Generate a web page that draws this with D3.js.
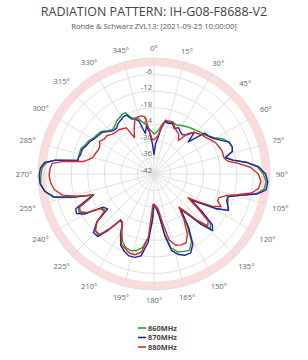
<!DOCTYPE html>
<html>
<head>
<meta charset="utf-8">
<script src="https://cdn.jsdelivr.net/npm/d3@7"></script>
<style>
  body { margin: 0; background: #fff; }
  text { font-family: "Open Sans", "DejaVu Sans", sans-serif; }
</style>
</head>
<body>
<div id="chart"></div>
<script>
// Data (dB vs azimuth)
const angles = [0, 3, 6, 9, 12, 16, 20, 24, 28, 32, 36, 40, 44, 47, 51, 55, 59, 63, 67, 71, 74, 77, 80, 83, 86, 90,
  94, 98, 101, 104, 107, 110, 113, 116, 119, 122, 125, 128, 131, 134, 137, 140, 143, 147, 151, 155, 159, 163, 167,
  170, 173, 177, 180, 182, 185, 189, 193, 197, 201, 205, 209, 213, 216, 219, 222, 226, 230, 233, 237, 240, 243, 246,
  249, 251, 254, 257, 261, 265, 269, 273, 276, 278, 280, 282, 285, 289, 293, 297, 301, 305, 309, 313, 317, 321, 325,
  329, 332, 335, 338, 341, 344, 348, 351, 354, 357];

const mhz860 = [-27.5, -27, -26, -24, -22.5, -22, -22, -22.5, -22, -21.5, -21, -20.5, -20, -19.5, -19, -18, -16.5, -14, -12.5, -12, -12.5, -15.5, -13, -8, -4.5, -2.4,
  -1.3, -1.8, -4.5, -10, -14, -13.5, -13, -12, -16, -22, -26, -20, -15, -13.5, -18, -23, -26, -20, -14, -11.5, -12, -12.5, -14.5,
  -20, -27, -30, -31, -26, -19, -15, -13.5, -13, -13.5, -15, -18, -21, -21, -16, -12, -12.5, -15, -20, -19.5, -14, -11.5, -12,
  -17, -19, -11, -4.5, -2, -0.8, -1, -1.4, -2.8, -6, -14, -14, -14, -14, -15, -15.5, -16.5, -17, -17.5, -19, -20, -19.5, -18.5,
  -18, -17.5, -17.5, -20, -20.5, -21, -23, -24, -25.5, -26.5];

const mhz870 = [-35, -31, -29, -25, -22.5, -23, -22.5, -24, -23, -24, -24.5, -23.5, -21, -25, -18.5, -18, -17, -15, -12.5, -12, -12.5, -15.5, -13, -8, -4, -1.6,
  -0.7, -1, -4, -10, -14, -14, -13, -12, -16, -22, -26, -20, -14, -12.5, -17, -23, -26, -19, -13, -10.5, -10.5, -11.5, -13.5,
  -19, -27, -30, -31, -25, -17, -12, -11, -11, -12, -13.5, -17, -21, -21.5, -16, -11.5, -11.5, -15, -21, -20, -13, -10.5, -11,
  -16, -18.5, -12, -5, -2, -0.6, -0.4, -0.8, -2.2, -6, -14, -14, -14.5, -14.5, -15.5, -16, -17, -17.5, -18, -19.5, -20.5, -20.5, -19.5,
  -19, -18.5, -18.5, -20.5, -21, -22, -27, -24.5, -27, -31];

const mhz880 = [-29.5, -29, -28, -25, -22, -22.5, -22, -23.5, -24.5, -25, -27, -23, -21, -20.5, -19.5, -19, -18, -17, -16.5, -16, -16, -16, -15, -11, -7, -4.2,
  -3.2, -3.8, -6, -11, -15, -17, -17, -15, -18, -23, -27, -22, -16, -15, -19, -24, -27, -22, -17, -14.5, -14.5, -15, -17.5,
  -24, -29, -30.5, -30, -31, -19, -13.5, -12, -12, -13, -14, -17.5, -21, -21, -16.5, -12.5, -12.5, -15, -19.5, -19, -14, -12, -12.5,
  -17, -18.5, -13, -8, -5.5, -4.5, -4, -4.3, -5, -9, -16, -17.5, -19, -19.5, -20, -20, -19, -20, -20, -21, -21.5, -21.5, -22,
  -22.5, -27, -25, -23, -21, -20.5, -20.5, -21, -26.5, -29.5];

const seriesNames = ["860MHz", "870MHz", "880MHz"];
const seriesValues = [mhz860, mhz870, mhz880];
const seriesColors = ["#2e9a2e", "#2222a6", "#d42a2a"];

const radialTicks = [-6, -12, -18, -24, -30, -36, -42];
const angularTicks = d3.range(0, 360, 15);

const W = 308, H = 360;
const cx = 154, cy = 174, R = 116;

const svg = d3.select("#chart").append("svg")
  .attr("width", W)
  .attr("height", H);

// Title
svg.append("text")
  .attr("x", W / 2)
  .attr("y", 16)
  .attr("text-anchor", "middle")
  .style("font-size", "12.5px")
  .style("fill", "#444")
  .text("RADIATION PATTERN: IH-G08-F8688-V2");

svg.append("text")
  .attr("x", W / 2)
  .attr("y", 29)
  .attr("text-anchor", "middle")
  .style("font-size", "7.6px")
  .style("fill", "#555")
  .text("Rohde & Schwarz ZVL13: [2021-09-25 10:00:00]");

const rScale = d3.scaleLinear().domain([-42, 0]).range([0, R]);
const rad = d => d * Math.PI / 180;

const g = svg.append("g").attr("transform", `translate(${cx},${cy})`);

// Pink band between -3 and 0 dB
g.append("path")
  .attr("d", d3.arc()({ innerRadius: rScale(-3), outerRadius: rScale(0), startAngle: 0, endAngle: 2 * Math.PI }))
  .style("fill", "#fbdcdc");

// Circular grid
g.selectAll("circle.grid")
  .data([-36, -30, -24, -18, -12, -6, 0])
  .enter()
  .append("circle")
  .attr("class", "grid")
  .attr("r", d => rScale(d))
  .style("fill", "none")
  .style("stroke", "#dcdcdc")
  .style("stroke-width", 0.9);

// Spokes
g.selectAll("line.spoke")
  .data(angularTicks)
  .enter()
  .append("line")
  .attr("class", "spoke")
  .attr("x1", 0)
  .attr("y1", 0)
  .attr("x2", d => R * Math.sin(rad(d)))
  .attr("y2", d => -R * Math.cos(rad(d)))
  .style("stroke", "#dcdcdc")
  .style("stroke-width", 0.9);

// Radial tick labels along the 0 degree spoke
g.selectAll("text.rtick")
  .data(radialTicks)
  .enter()
  .append("text")
  .attr("class", "rtick")
  .attr("x", -2)
  .attr("y", d => -rScale(d) - 1)
  .attr("text-anchor", "end")
  .style("font-size", "7.6px")
  .style("fill", "#666")
  .text(d => d);

// Angular tick labels
const alabels = g.selectAll("text.atick")
  .data(angularTicks)
  .enter()
  .append("text")
  .attr("class", "atick")
  .attr("text-anchor", "middle")
  .style("font-size", "7.6px")
  .style("fill", "#666")
  .text(d => d + "°");

alabels.each(function (d) {
  const w = this.getComputedTextLength();
  const h = 8;
  const s = Math.sin(rad(d)), c = Math.cos(rad(d));
  const off = R + 6 + Math.abs(s) * w / 2 + Math.abs(c) * h / 2;
  d3.select(this)
    .attr("x", off * s)
    .attr("y", -off * c + 2.8);
});

// Traces
const line = d3.lineRadial()
  .angle(d => rad(d[0]))
  .radius(d => rScale(d[1]))
  .curve(d3.curveLinearClosed);

seriesValues.forEach((vals, i) => {
  g.append("path")
    .datum(angles.map((a, j) => [a, vals[j]]))
    .attr("d", line)
    .style("fill", "none")
    .style("stroke", seriesColors[i])
    .style("stroke-width", 1.4)
    .style("stroke-linejoin", "round");
});

// Legend
const legend = svg.append("g").attr("transform", "translate(138, 328)");

seriesNames.forEach((name, i) => {
  const row = legend.append("g").attr("transform", `translate(0, ${i * 9.5})`);
  row.append("line")
    .attr("x1", 0)
    .attr("x2", 8)
    .attr("y1", 0)
    .attr("y2", 0)
    .style("stroke", seriesColors[i])
    .style("stroke-width", 1.6);
  row.append("text")
    .attr("x", 10)
    .attr("y", 2.6)
    .style("font-size", "7.4px")
    .style("font-weight", "bold")
    .style("fill", "#444")
    .text(name);
});
</script>
</body>
</html>
